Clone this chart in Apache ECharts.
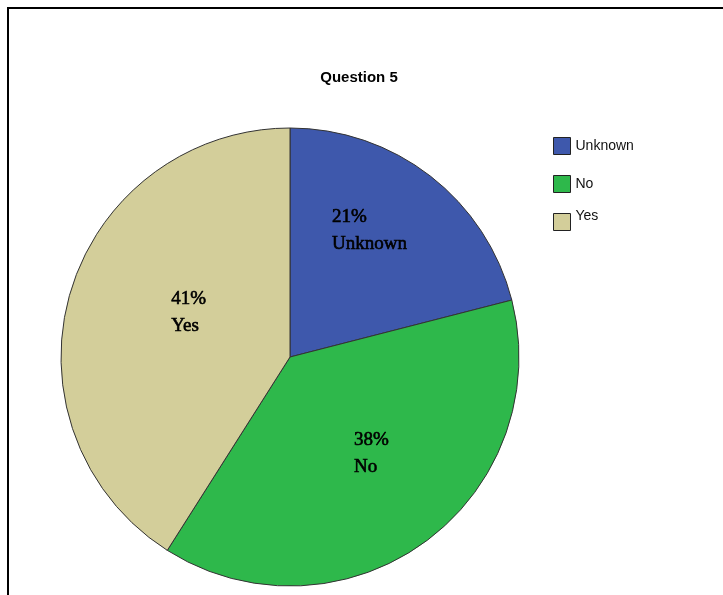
<!DOCTYPE html>
<html>
<head>
<meta charset="utf-8">
<script src="https://cdn.jsdelivr.net/npm/echarts@6/dist/echarts.min.js"></script>
<style>
  html, body { margin: 0; padding: 0; background: #fff; }
  #chart { width: 723px; height: 595px; }
</style>
</head>
<body>
<div id="chart"></div>
<script>
// Responses to question 5, in percent
const categories = ['Unknown', 'No', 'Yes'];
const percents = [21, 38, 41];
const sliceColors = ['#3e58ac', '#2eb84b', '#d3ce9a'];
// nudges for the in-slice labels, relative to their default inside spot
const labelOffsets = [[10, -34], [35, 1], [34, -12]];

const chart = echarts.init(document.getElementById('chart'), null, { renderer: 'canvas' });

const pieData = categories.map((name, i) => ({
  name: name,
  value: percents[i],
  itemStyle: { color: sliceColors[i] },
  label: { offset: labelOffsets[i] }
}));

const legendBase = {
  orient: 'vertical',
  left: 553,
  padding: 0,
  itemWidth: 17,
  itemHeight: 17,
  itemGap: 20,
  itemTextGap: 6,
  icon: 'rect',
  itemStyle: { borderColor: '#222', borderWidth: 1 },
  textStyle: {
    fontFamily: 'Liberation Sans',
    fontSize: 14,
    color: '#111'
  }
};

chart.setOption({
  animation: false,
  backgroundColor: '#fff',
  title: {
    text: 'Question 5',
    left: 354,
    top: 65,
    textAlign: 'center',
    textStyle: {
      fontFamily: 'Liberation Sans',
      fontSize: 15,
      fontWeight: 'bold',
      color: '#000'
    }
  },
  legend: [
    Object.assign({}, legendBase, { top: 137, data: categories.slice(0, 2) }),
    // the "Yes" entry sits a little higher beside its swatch
    Object.assign({}, legendBase, {
      top: 209,
      data: categories.slice(2),
      formatter: name => '{up|' + name + '}',
      textStyle: Object.assign({}, legendBase.textStyle, {
        rich: {
          up: {
            fontFamily: 'Liberation Sans',
            fontSize: 14,
            color: '#111',
            lineHeight: 2,
            padding: [0, 0, 12, 0]
          }
        }
      })
    })
  ],
  graphic: [{
    type: 'rect',
    shape: { x: 8, y: 8, width: 900, height: 800 },
    style: { fill: 'none', stroke: '#000', lineWidth: 2 },
    silent: true,
    z: -1
  }],
  series: [{
    type: 'pie',
    center: [290, 357],
    radius: 229,
    startAngle: 90,
    clockwise: true,
    avoidLabelOverlap: false,
    itemStyle: { borderColor: '#333', borderWidth: 1 },
    emphasis: { disabled: true },
    label: {
      show: true,
      position: 'inside',
      formatter: p => '{t|' + p.value + '%}\n{t|' + p.name + '}',
      rich: {
        t: {
          width: 80,
          align: 'left',
          fontFamily: 'Liberation Serif',
          fontSize: 19,
          lineHeight: 27,
          color: '#000',
          textBorderColor: '#000',
          textBorderWidth: 0.6
        }
      }
    },
    labelLine: { show: false },
    data: pieData
  }]
});
</script>
</body>
</html>
